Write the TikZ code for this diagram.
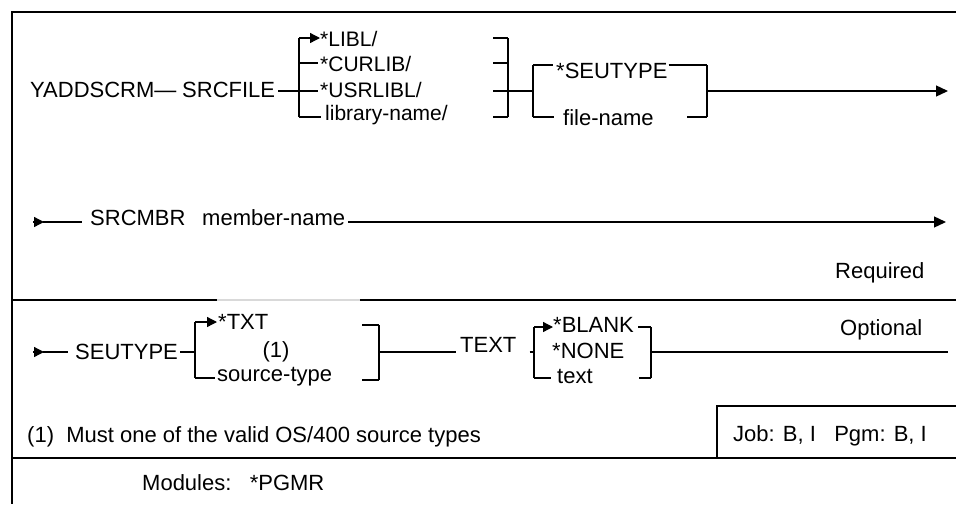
\documentclass[tikz,border=0pt]{standalone}
\usepackage{fontspec}
\setmainfont{Liberation Sans}
\usetikzlibrary{arrows.meta}

\tikzset{
  lbl/.style={anchor=base west, inner sep=0pt, font=\fontsize{22}{26}\selectfont},
  item/.style={lbl, font=\fontsize{21}{25}\selectfont},
  rail/.style={line width=1.3pt},
  brk/.style={line width=2.8pt},
  rule/.style={line width=1.6pt},
  go/.style={-{Triangle[length=12pt,width=11pt]}},
  pick/.style={-{Triangle[length=10pt,width=10pt]}}
}

\begin{document}
\begin{tikzpicture}[x=1pt, y=-1pt]
\useasboundingbox (0,0) rectangle (956,504);
% frame and rules
\draw [line width=2.6pt] (956,12) -- (12,12) -- (12,504);
\draw [rule] (12,300) -- (217,300);
\draw [rule, black!15] (217,300) -- (360,300);
\draw [rule] (360,300) -- (956,300);
\draw [rule] (12,458) -- (956,458);
\draw [rule] (717,458) -- (717,406) -- (956,406);

% first line
\node [lbl] (yadd) at (30,97) {YADDSCRM—};
\node [lbl] (srcfile) at (182,97) {SRCFILE};
\node [item] (libl) at (320,46) {*LIBL/};
\node [item] (curlib) at (320,71) {*CURLIB/};
\node [item] (usrlibl) at (320,97) {*USRLIBL/};
\node [item] (libname) at (325,120) {library-name/};
\coordinate (l1) at (299,38);
\coordinate (l2) at (299,63);
\coordinate (l3) at (299,91);
\coordinate (l4) at (299,117);
\draw [rail] ([xshift=3pt]srcfile.east |- l3) -- (l3);
\draw [brk] (l1) -- (l4);
\draw [rail, pick] (l1) -- (libl.west |- l1);
\draw [rail] (l2) -- ([xshift=-2pt]curlib.west |- l2);
\draw [rail] (l3) -- ([xshift=-2pt]usrlibl.west |- l3);
\draw [rail] (l4) -- ([xshift=-4pt]libname.west |- l4);
\coordinate (r1) at (508,38);
\coordinate (r2) at (508,63);
\coordinate (r3) at (508,91);
\coordinate (r4) at (508,117);
\draw [brk] (r1) -- (r4);
\draw [rail] (r1) -- ++(-15,0) (r2) -- ++(-15,0) (r3) -- ++(-15,0) (r4) -- ++(-15,0);
\node [lbl] (seutype) at (556,78) {*SEUTYPE};
\node [lbl] (filename) at (563,125) {file-name};
\coordinate (s1) at (533,65);
\coordinate (sm) at (533,91);
\coordinate (s2) at (533,117);
\coordinate (t1) at (707,65);
\coordinate (tm) at (707,91);
\coordinate (t2) at (707,117);
\coordinate (end1) at (948,91);
\draw [rail] (r3) -- (sm);
\draw [brk] (s1) -- (s2) (t1) -- (t2);
\draw [rail] (s1) -- ([xshift=-3pt]seutype.west |- s1);
\draw [rail] ([xshift=1pt]seutype.east |- t1) -- (t1);
\draw [rail] (s2) -- ([xshift=-9pt]filename.west |- s2);
\draw [rail] (t2) -- ++(-20,0);
\draw [rail, go] (tm) -- (end1);

% second line
\node [lbl] (srcmbr) at (90,225) {SRCMBR};
\node [lbl] (member) at (202,225) {member-name};
\node [lbl] (required) at (835,278) {Required};
\coordinate (in2) at (33,222);
\coordinate (end2) at (946,222);
\draw [rail, pick] (in2) -- ++(11,0);
\draw [rail] ([xshift=10pt]in2) -- ([xshift=-8pt]srcmbr.west |- in2);
\draw [rail, go] ([xshift=3pt]member.east |- end2) -- (end2);

% third line
\node [lbl] (seut) at (75,359) {SEUTYPE};
\node [lbl] (txt) at (218,329) {*TXT};
\node [lbl, anchor=base] (one) at (276,357) {(1)};
\node [lbl] (srctype) at (217,381) {source-type};
\node [lbl] (textkw) at (460,352) {TEXT};
\node [lbl] (blank) at (553,332) {*BLANK};
\node [lbl] (none) at (552,358) {*NONE};
\node [lbl] (text) at (557,383) {text};
\node [lbl] (optional) at (840,335) {Optional};
\coordinate (in3) at (33,352);
\coordinate (u1) at (195,322);
\coordinate (um) at (195,352);
\coordinate (u2) at (195,378);
\coordinate (v1) at (379,325);
\coordinate (vm) at (379,352);
\coordinate (v2) at (379,380);
\coordinate (w1) at (534,327);
\coordinate (wm) at (534,352);
\coordinate (w2) at (534,378);
\coordinate (z1) at (651,327);
\coordinate (zm) at (651,352);
\coordinate (z2) at (651,378);
\coordinate (end3) at (948,352);
\draw [rail, pick] (in3) -- ++(11,0);
\draw [rail] ([xshift=10pt]in3) -- ([xshift=-7pt]seut.west |- in3);
\draw [rail] ([xshift=2pt]seut.east |- um) -- (um);
\draw [brk] (u1) -- (u2) (v1) -- (v2);
\draw [rail, pick] (u1) -- ([xshift=-1pt]txt.west |- u1);
\draw [rail] (u2) -- ([xshift=-2pt]srctype.west |- u2);
\draw [rail] (v1) -- ++(-17,0) (v2) -- ++(-17,0);
\draw [rail] (vm) -- ([xshift=-4pt]textkw.base west);
\draw [rail] ([xshift=13pt]textkw.base east) -- (wm);
\draw [brk] (w1) -- (w2) (z1) -- (z2);
\draw [rail, pick] (w1) -- (blank.west |- w1);
\draw [rail] (w2) -- ([xshift=-6pt]text.west |- w2);
\draw [rail] ([xshift=4pt]blank.east |- z1) -- (z1);
\draw [rail] (z2) -- ++(-12,0);
\draw [rail] (zm) -- (end3);

% notes
\node [lbl] (note) at (27,442) {(1)~~Must one of the valid OS/400 source types};
\node [lbl] (job) at (733,441) {Job: B, I~~~Pgm: B, I};
\node [lbl] (modules) at (142,490) {Modules:~~~*PGMR};
\end{tikzpicture}
\end{document}
